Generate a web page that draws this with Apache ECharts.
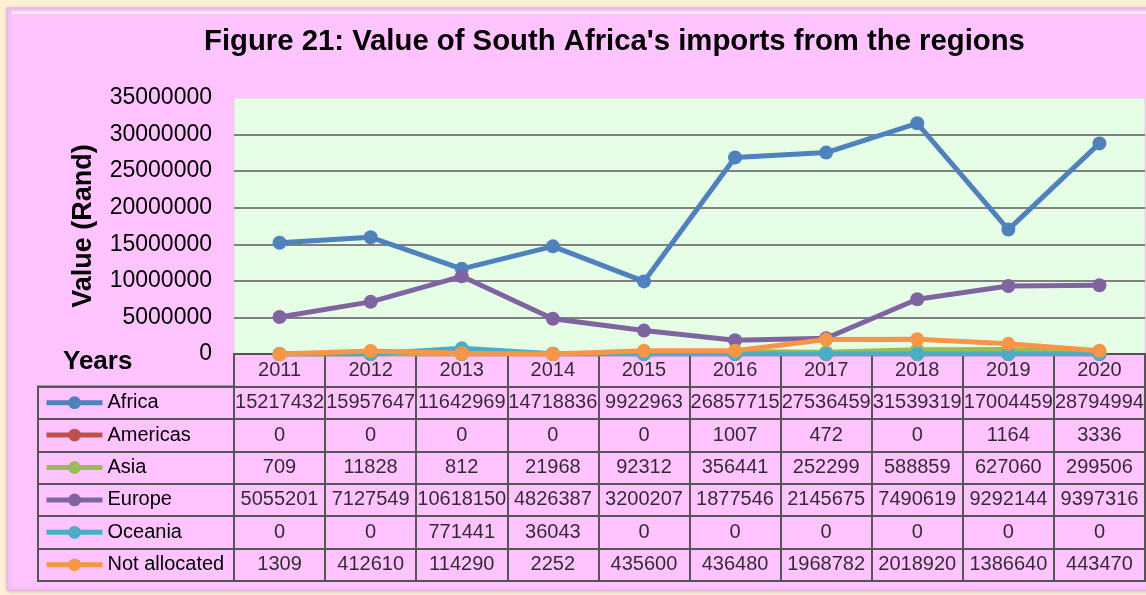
<!DOCTYPE html>
<html>
<head>
<meta charset="utf-8">
<script src="https://cdn.jsdelivr.net/npm/echarts@6/dist/echarts.min.js"></script>
<style>
html,body{margin:0;padding:0;background:#fcf1d6;}
#c{width:1146px;height:595px;}
</style>
</head>
<body>
<div id="c"></div>
<script>
const years = ['2011','2012','2013','2014','2015','2016','2017','2018','2019','2020'];
const seriesNames = ['Africa','Americas','Asia','Europe','Oceania','Not allocated'];
const africa = [15217432,15957647,11642969,14718836,9922963,26857715,27536459,31539319,17004459,28794994];
const americas = [0,0,0,0,0,1007,472,0,1164,3336];
const asia = [709,11828,812,21968,92312,356441,252299,588859,627060,299506];
const europe = [5055201,7127549,10618150,4826387,3200207,1877546,2145675,7490619,9292144,9397316];
const oceania = [0,0,771441,36043,0,0,0,0,0,0];
const notAllocated = [1309,412610,114290,2252,435600,436480,1968782,2018920,1386640,443470];
const yTicks = {min:0, max:35000000, interval:5000000};
const colors = ['#4f81bd','#c0504d','#9bbb59','#8064a2','#4bacc6','#f79646'];

const allData = [africa, americas, asia, europe, oceania, notAllocated];
const FONT = 'Arial, "Liberation Sans", sans-serif';

// layout constants
const plotLeft = 234, plotWidth = 911, plotTop = 98, plotHeight = 256;
const tableTop = 354, tableHeight = 227, rows = 7;
const rowH = tableHeight / rows;
const legLeft = 38, legWidth = plotLeft - legLeft;

// table text cells
const cellData = [];
years.forEach((y, i) => cellData.push({value: [i, 0], txt: y}));
allData.forEach((arr, r) => arr.forEach((v, i) => cellData.push({value: [i, r + 1], txt: String(v)})));

const legends = seriesNames.map((n, r) => ({
  data: [n],
  left: legLeft + 1,
  top: tableTop + rowH * (r + 1) + rowH / 2 - 15,
  itemWidth: 56, itemHeight: 16, itemGap: 0,
  selectedMode: false,
  lineStyle: {width: 5},
  textStyle: {fontSize: 20, color: '#000', fontFamily: FONT, padding: [0,0,0,0]}
}));

const chart = echarts.init(document.getElementById('c'), null, {renderer: 'canvas'});
chart.setOption({
  backgroundColor: 'transparent',
  animation: false,
  textStyle: {fontFamily: FONT},
  graphic: [{
    type: 'rect', z: -10, silent: true,
    shape: {x: 7, y: 8, width: 1145, height: 582},
    style: {fill: '#ffc4ff', stroke: '#e6b0e6', lineWidth: 1,
            shadowBlur: 4, shadowColor: 'rgba(120,80,120,0.35)', shadowOffsetX: 1, shadowOffsetY: 1}
  }, {
    type: 'rect', z: -9, silent: true,
    shape: {x: 12, y: 11, width: 1140, height: 3},
    style: {fill: 'rgba(255,255,255,0.7)'}
  }],
  title: [{
    text: "Figure 21: Value of South Africa's imports from the regions",
    left: 199, top: 22,
    textStyle: {fontSize: 29.3, fontWeight: 'bold', color: '#000', fontFamily: FONT}
  }, {
    text: 'Years', left: 58, top: 344,
    textStyle: {fontSize: 26, fontWeight: 'bold', color: '#000', fontFamily: FONT}
  }],
  legend: legends,
  grid: [
    {left: plotLeft, top: plotTop, width: plotWidth, height: plotHeight, show: true,
     backgroundColor: '#e6fde6', borderColor: '#d8d8d8', borderWidth: 1},
    {left: plotLeft, top: tableTop, width: plotWidth, height: tableHeight, show: true,
     backgroundColor: 'transparent', borderColor: '#555', borderWidth: 2},
    {left: legLeft, top: tableTop + rowH, width: legWidth, height: tableHeight - rowH, show: true,
     backgroundColor: 'transparent', borderColor: '#555', borderWidth: 2}
  ],
  xAxis: [
    {type: 'category', gridIndex: 0, data: years, boundaryGap: true,
     axisLine: {show: true, lineStyle: {color: '#555', width: 2}},
     axisTick: {show: false}, axisLabel: {show: false}},
    {type: 'category', gridIndex: 1, data: years, boundaryGap: true,
     axisLine: {show: false}, axisTick: {show: false}, axisLabel: {show: false},
     splitLine: {show: true, interval: 0, lineStyle: {color: '#555', width: 2}}},
    {type: 'value', gridIndex: 2, show: false, min: 0, max: 1}
  ],
  yAxis: [
    {type: 'value', gridIndex: 0, min: yTicks.min, max: yTicks.max, interval: yTicks.interval,
     name: 'Value (Rand)', nameLocation: 'middle', nameRotate: 90, nameGap: 137,
     nameTextStyle: {fontSize: 27, fontWeight: 'bold', color: '#000', fontFamily: FONT},
     axisLine: {show: false}, axisTick: {show: false},
     axisLabel: {fontSize: 23, color: '#000', margin: 22, fontFamily: FONT, formatter: v => String(v)},
     splitLine: {show: true, lineStyle: {color: ['#555','#808080','#808080','#808080','#808080','#808080','#808080','rgba(0,0,0,0)'], width: 2}}},
    {type: 'category', gridIndex: 1, inverse: true, data: [''].concat(seriesNames), boundaryGap: true,
     axisLine: {show: false}, axisTick: {show: false}, axisLabel: {show: false},
     splitLine: {show: true, interval: 0, lineStyle: {color: '#555', width: 2}}},
    {type: 'category', gridIndex: 2, inverse: true, data: seriesNames, boundaryGap: true,
     axisLine: {show: false}, axisTick: {show: false}, axisLabel: {show: false},
     splitLine: {show: true, interval: 0, lineStyle: {color: '#555', width: 2}}}
  ],
  series: seriesNames.map((n, k) => ({
    name: n, type: 'line', xAxisIndex: 0, yAxisIndex: 0,
    data: allData[k], symbol: 'circle', symbolSize: 14, showSymbol: true,
    lineStyle: {width: 5, color: colors[k]}, itemStyle: {color: colors[k]},
    z: 2 + k
  })).concat([{
    name: 'table', type: 'scatter', xAxisIndex: 1, yAxisIndex: 1,
    data: cellData, symbolSize: 1, itemStyle: {color: 'rgba(0,0,0,0)'}, silent: true,
    label: {show: true, position: 'inside', fontSize: 20, color: '#000', fontFamily: FONT,
            formatter: p => p.data.txt}
  }])
});
</script>
</body>
</html>
